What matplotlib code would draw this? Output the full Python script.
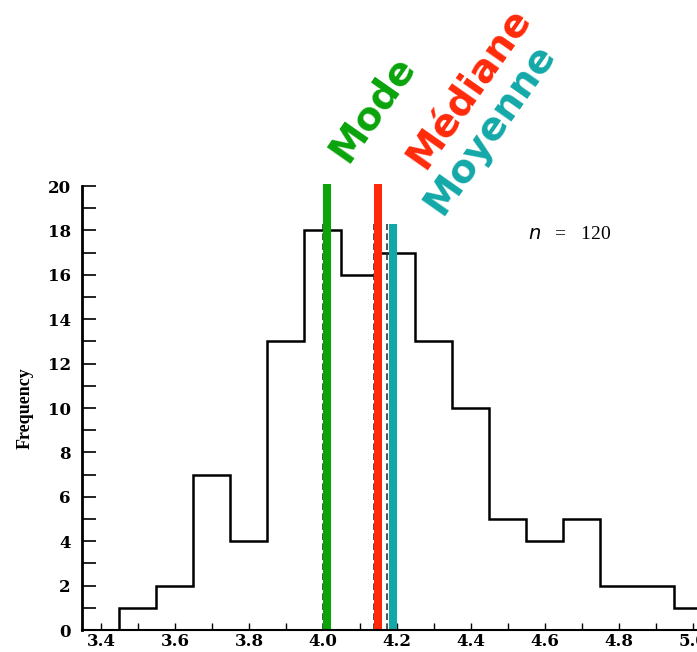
import matplotlib
matplotlib.use("Agg")
import matplotlib.pyplot as plt
import numpy as np
from matplotlib.ticker import MultipleLocator

# Data
bin_edges = [3.45, 3.55, 3.65, 3.75, 3.85, 3.95, 4.05, 4.15, 4.25, 4.35,
             4.45, 4.55, 4.65, 4.75, 4.85, 4.95, 5.05]
counts = [1, 2, 7, 4, 13, 18, 16, 17, 13, 10, 5, 4, 5, 2, 2, 1]
x_ticks = [3.4, 3.6, 3.8, 4.0, 4.2, 4.4, 4.6, 4.8, 5.0]
x_labels = ["3.4", "3.6", "3.8", "4.0", "4.2", "4.4", "4.6", "4.8", "5.0"]
y_ticks = [0, 2, 4, 6, 8, 10, 12, 14, 16, 18, 20]

# original dashed reference lines (scan)
dashed_x = [4.0, 4.138, 4.173]
dashed_top = [18.3, 18.3, 18.3]

# coloured statistic lines
stat_names = ["Mode", "Médiane", "Moyenne"]
stat_x = [4.01, 4.15, 4.19]
stat_top = [20.1, 20.1, 18.3]
stat_colors = ["#0aa30a", "#ff2a0a", "#13a8a8"]

fig = plt.figure(figsize=(6.97, 6.52), dpi=100)
ax = fig.add_axes([0.1176, 0.0337, 0.8824, 0.681])
ax.set_xlim(3.3486, 5.011)
ax.set_ylim(0, 20)

# step histogram
xs = [bin_edges[0]]
ys = [0]
for i, c in enumerate(counts):
    xs += [bin_edges[i], bin_edges[i + 1]]
    ys += [c, c]
xs.append(bin_edges[-1])
ys.append(0)
ax.plot(xs, ys, color="black", lw=1.8, solid_joinstyle="miter", clip_on=True)

for dx, dt in zip(dashed_x, dashed_top):
    ax.plot([dx, dx], [0, dt], color="#333333", lw=1.2, ls=(0, (4, 2)))

for sx, st, sc in zip(stat_x, stat_top, stat_colors):
    ax.plot([sx, sx], [0, st], color=sc, lw=5.8, solid_capstyle="butt", clip_on=False)

# spines
for s in ["top", "right"]:
    ax.spines[s].set_visible(False)
ax.spines["left"].set_linewidth(2.0)
ax.spines["bottom"].set_linewidth(1.5)

serif = ["DejaVu Serif"]
ax.set_xticks(x_ticks)
ax.set_xticklabels(x_labels, fontfamily=serif, fontweight="bold", fontsize=12)
ax.set_yticks(y_ticks)
ax.set_yticklabels([str(v) for v in y_ticks], fontfamily=serif, fontweight="bold", fontsize=12)
ax.xaxis.set_minor_locator(MultipleLocator(0.1))
ax.yaxis.set_minor_locator(MultipleLocator(1))
ax.tick_params(axis="both", which="both", direction="in", color="black")
ax.tick_params(axis="y", which="major", length=10, width=1.2, pad=8)
ax.tick_params(axis="y", which="minor", length=10, width=1.2)
ax.tick_params(axis="x", which="major", length=5, width=1.0, pad=2)
ax.tick_params(axis="x", which="minor", length=5, width=1.0)

ax.set_ylabel("Frequency", fontfamily=["Liberation Serif"], fontsize=13,
              fontweight="bold", fontstretch="condensed", labelpad=10)

ax.text(4.555, 17.8, r"$\it{n}$   =   120", fontfamily=["Liberation Serif"],
        fontsize=14, ha="left", va="center")

# rotated statistic labels
label_pos = [(4.132, 23.5), (4.397, 24.4), (4.451, 22.6)]
for name, (lx, ly), sc in zip(stat_names, label_pos, stat_colors):
    ax.text(lx, ly, name, color=sc, fontsize=28, fontweight="bold",
            fontfamily=["DejaVu Sans"], rotation=55, rotation_mode="anchor",
            ha="center", va="center", clip_on=False)

fig.savefig("out.png", dpi=100)
